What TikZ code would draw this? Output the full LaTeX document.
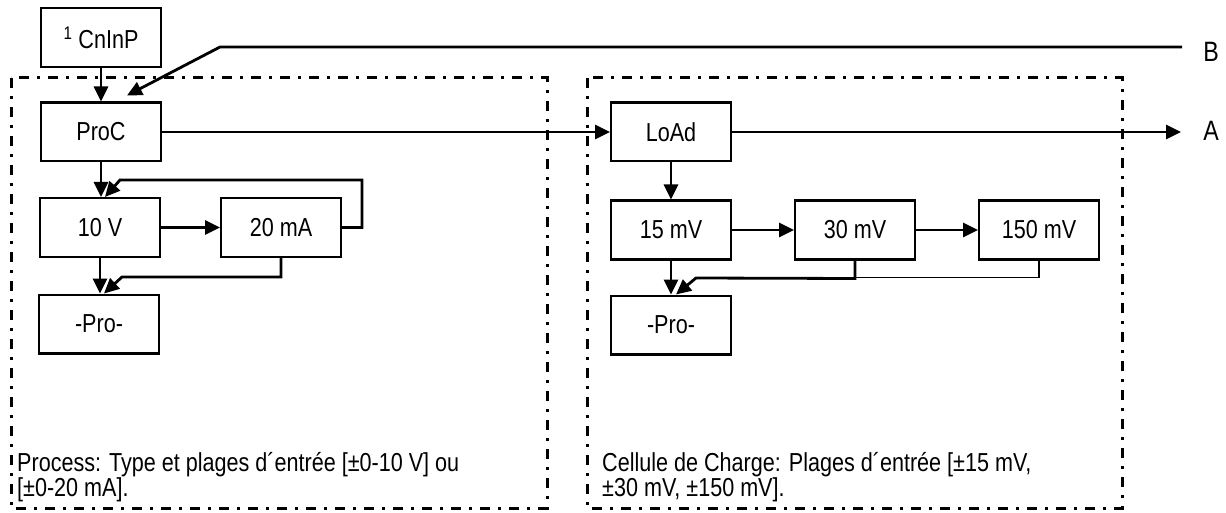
\documentclass[tikz,border=0pt]{standalone}
\usepackage{fontspec}
\setmainfont[FakeStretch=0.83]{Liberation Sans}
\usepackage{tikz}
\usetikzlibrary{arrows.meta,shapes}
\tikzstyle{block}=[draw,line width=2.4pt,minimum width=119.6pt,minimum height=58.6pt,inner sep=0pt]
\tikzstyle{edge}=[draw,line width=2.8pt,-{Triangle[length=15pt,width=14pt]}]
\tikzstyle{wire}=[draw,line width=1.5pt,-]
\tikzstyle{frame}=[draw,line width=3pt,dash pattern=on 10pt off 8pt on 3pt off 8pt]
\tikzstyle{note}=[anchor=north west,align=left,inner sep=0pt]
\tikzstyle{port}=[font=\fontsize{28}{28}\selectfont]

\begin{document}
\begin{tikzpicture}[x=1pt,y=-1pt,font=\fontsize{26}{21.7}\selectfont]
    \useasboundingbox (0,0) rectangle (1226,513);
    % First we draw the two dash-dot frames
    \path[frame] (11,78) rectangle (547,508);
    \path[frame] (587,78) rectangle (1122,508);
    % Then the blocks
    \foreach \pos/\name/\label in {{(101,37.5)/cninp/\textsuperscript{1} CnInP}, {(101,132)/proc/ProC},
        {(100,227.5)/v10/10 V}, {(281,227.5)/ma20/20 mA}, {(99,324)/proL/-Pro-},
        {(671,132)/load/LoAd}, {(671,230)/mv15/15 mV}, {(855,230)/mv30/30 mV},
        {(1039,230)/mv150/150 mV}, {(671,325)/proR/-Pro-}}
        \node[block] (\name) at \pos {\label};
    % Outputs A and B
    \coordinate (aEnd) at (1181,132);
    \coordinate (bEnd) at (1182,47);
    \node[port] (outA) at (1211,131) {A};
    \node[port] (outB) at (1211,52) {B};
    % Connect blocks with arrows
    \foreach \source/\dest in {cninp/proc, proc/v10, v10/proL, load/mv15, mv15/proR}
        \path[edge] (\source.south) -- (\source.south |- \dest.north);
    \foreach \source/\dest in {v10/ma20, proc/load, mv15/mv30, mv30/mv150}
        \path[edge] (\source.east) -- (\source.east -| \dest.west);
    \path[edge] (load.east) -- (aEnd);
    \path[edge] (bEnd) -- (220,47) -- ([xshift=26pt,yshift=6pt]proc.north);
    % Return paths
    \path[edge] (ma20.east) -- ++(20,0) |- (120,180) -- ([xshift=5pt]v10.north);
    \path[edge] (ma20.south) -- ++(0,19) -- (122,277) -- ([xshift=5pt]proL.north);
    \path[edge] (mv30.south) -- ++(0,18) -- (696,278) -- ([xshift=5pt]proR.north);
    \path[wire] (mv150.south) -- ++(0,17) -| (mv30.south);
    % Notes
    \node[note] (noteL) at (17,452) {Process: Type et plages d´entrée [±0-10 V] ou\\{[}±0-20 mA].};
    \node[note] (noteR) at (602,452) {Cellule de Charge: Plages d´entrée [±15 mV,\\±30 mV, ±150 mV].};
\end{tikzpicture}
\end{document}
